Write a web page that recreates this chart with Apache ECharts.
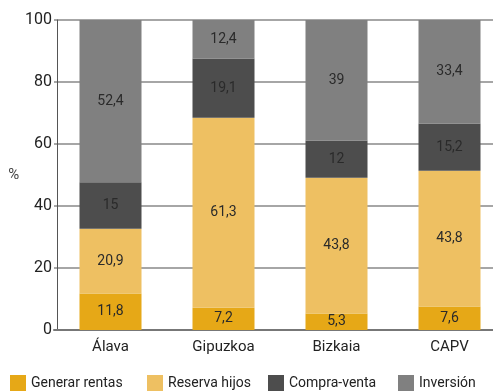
<!DOCTYPE html>
<html>
<head>
<meta charset="utf-8">
<script src="https://cdn.jsdelivr.net/npm/echarts@6/dist/echarts.min.js"></script>
<style>
  html, body { margin: 0; padding: 0; background: #fff; }
  #chart { width: 493px; height: 392px; }
</style>
</head>
<body>
<div id="chart"></div>
<script>
// Territories on the category axis
const categories = ['Álava', 'Gipuzkoa', 'Bizkaia', 'CAPV'];

// Share of each purpose (%), stacked per territory
const generarRentas = [11.8, 7.2, 5.3, 7.6];
const reservaHijos  = [20.9, 61.3, 43.8, 43.8];
const compraVenta   = [15, 19.1, 12, 15.2];
const inversion     = [52.4, 12.4, 39, 33.4];

const seriesNames = ['Generar rentas', 'Reserva hijos', 'Compra-venta', 'Inversión'];
const seriesData = [generarRentas, reservaHijos, compraVenta, inversion];
const colors = ['#E6A817', '#EEC062', '#4D4D4D', '#808080'];
// Left offset of each legend entry along the bottom row
const legendLefts = [10, 147, 268, 398];

const FONT = 'Roboto, "Noto Sans", sans-serif';

const chart = echarts.init(document.getElementById('chart'), null, { renderer: 'canvas' });

chart.setOption({
  animation: false,
  color: colors,
  grid: {
    left: 54, top: 20, width: 452, height: 310,
    containLabel: false,
    outerBoundsMode: 'none'
  },
  legend: seriesNames.map((name, i) => ({
    left: legendLefts[i],
    top: 375,
    padding: 0,
    itemWidth: 16,
    itemHeight: 16,
    itemGap: 5,
    icon: 'rect',
    textStyle: { fontFamily: FONT, fontSize: 14, color: '#222' },
    data: [name]
  })),
  xAxis: {
    type: 'category',
    data: categories,
    axisTick: { show: false },
    axisLine: { lineStyle: { color: '#777', width: 2 } },
    axisLabel: { fontFamily: FONT, fontSize: 15, color: '#222', margin: 10 }
  },
  yAxis: {
    type: 'value',
    min: 0,
    max: 100,
    interval: 20,
    offset: -3,
    name: '%',
    nameLocation: 'middle',
    nameGap: 32,
    nameRotate: 0,
    nameTextStyle: { fontFamily: FONT, fontSize: 15, color: '#444' },
    axisLine: { show: true, lineStyle: { color: '#555', width: 1 } },
    axisTick: { show: false },
    axisLabel: { fontFamily: FONT, fontSize: 16, color: '#222', margin: 5 },
    splitLine: { lineStyle: { color: '#888', width: 1.5 } }
  },
  series: seriesData.map((vals, i) => ({
    name: seriesNames[i],
    type: 'bar',
    stack: 'total',
    barWidth: 62,
    data: vals,
    label: {
      show: true,
      position: 'inside',
      fontFamily: FONT,
      fontSize: 14,
      color: '#2a2a2a',
      formatter: p => String(p.value).replace('.', ',')
    }
  }))
});
</script>
</body>
</html>
